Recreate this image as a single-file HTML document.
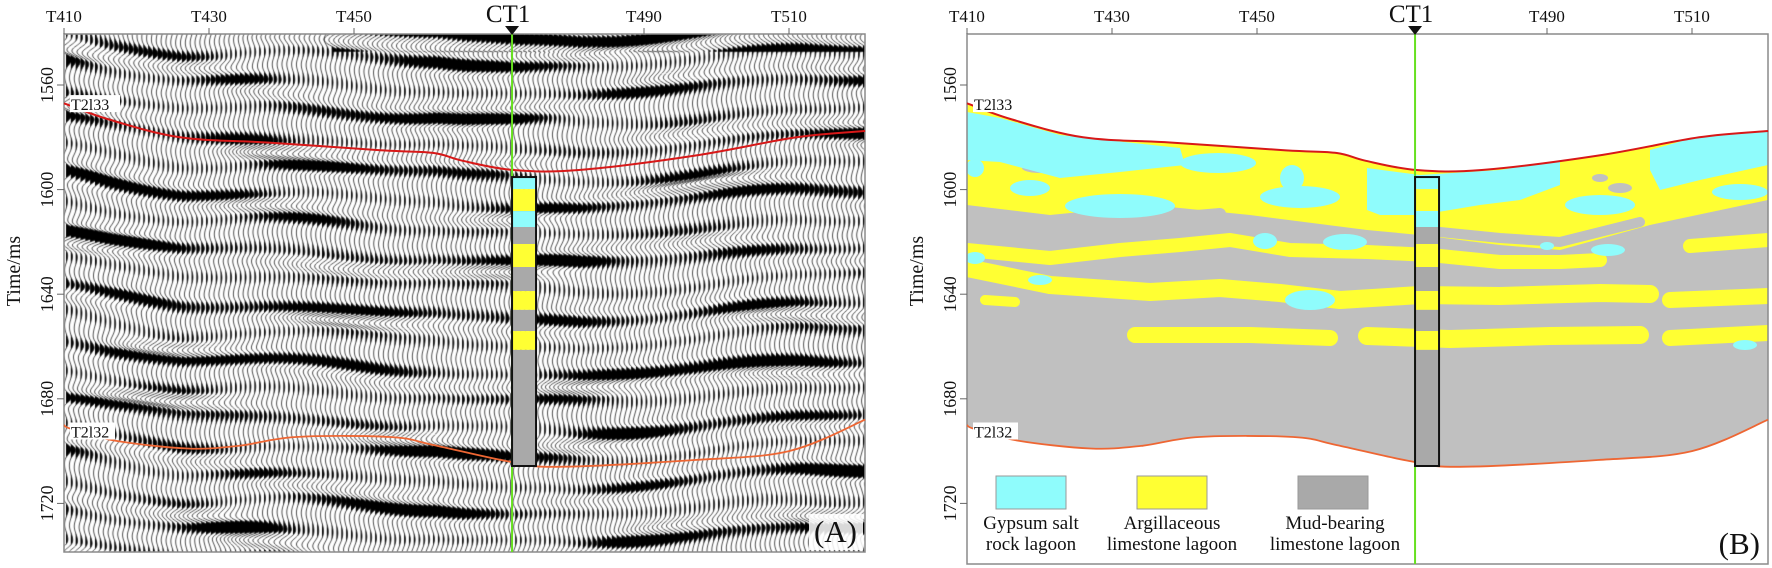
<!DOCTYPE html>
<html><head><meta charset="utf-8">
<style>
html,body{margin:0;padding:0;background:#fff;}
#root{position:relative;width:1772px;height:568px;overflow:hidden;font-family:"Liberation Serif",serif;}
canvas{position:absolute;left:0;top:0;}
svg{position:absolute;left:0;top:0;}
</style></head>
<body>
<div id="root">
<canvas id="seis" width="1772" height="568"></canvas>
<svg id="svg" width="1772" height="568"></svg>
</div>
<script>
// ---- data ----
const traceTicks = [410, 430, 450, 490, 510];
const timeTicks = [1560, 1600, 1640, 1680, 1720];
const wellTrace = 471.8;
const topHorizonTrace = [410, 416, 426, 438, 454, 461, 465, 472, 481, 497, 511, 520.5];
const topHorizonMs = [1567, 1573, 1580, 1582, 1585, 1586, 1589, 1592.5, 1592.5, 1587, 1580, 1577.6];
const botHorizonTrace = [410, 411, 417, 427, 434, 442, 455, 461, 471, 478, 497, 510, 520.5];
const botHorizonMs = [1690, 1691.5, 1696, 1699, 1698, 1694.6, 1694.6, 1697.7, 1703.8, 1706, 1703.4, 1700, 1688];
const wellFacies = ['cyan','yellow','cyan','grey','yellow','grey','yellow','grey','yellow','grey'];
const wellTopMs = [1595.2, 1599.8, 1608.2, 1614.3, 1620.8, 1629.6, 1638.8, 1646.0, 1654.1, 1661.3];
const wellBaseMs = [1599.8, 1608.2, 1614.3, 1620.8, 1629.6, 1638.8, 1646.0, 1654.1, 1661.3, 1705.7];
const legendLabels = [['Gypsum salt','rock lagoon'],['Argillaceous','limestone lagoon'],['Mud-bearing','limestone lagoon']];

const COL = {cyan:'#8ffcfc', yellow:'#ffff33', grey:'#a9a9a9', bg:'#c0c0c0'};
const NS = 'http://www.w3.org/2000/svg';
const svg = document.getElementById('svg');
const PT = 34;
const panels = [{x0:64, x1:865, bottom:552, tag:'a'}, {x0:967, x1:1768, bottom:564, tag:'b'}];
function xs(p, t){ return p.x0 + (t - 410) * 7.25; }
function ys(ms){ return 85 + (ms - 1560) * 2.615; }
function el(tag, attrs, parent){ const e = document.createElementNS(NS, tag); for (const k in attrs) e.setAttribute(k, attrs[k]); (parent||svg).appendChild(e); return e; }
function interp(arrX, arrY, x){
  if (x <= arrX[0]) return arrY[0];
  for (let i=1;i<arrX.length;i++){ if (x <= arrX[i]) { const f=(x-arrX[i-1])/(arrX[i]-arrX[i-1]); return arrY[i-1]+f*(arrY[i]-arrY[i-1]); } }
  return arrY[arrY.length-1];
}
function hPts(p, tr, ms){ return tr.map((t,i)=>[xs(p,t), ys(ms[i])]); }
function smoothPath(pts){
  let d = 'M' + pts[0][0].toFixed(1) + ' ' + pts[0][1].toFixed(1);
  for (let i=0;i<pts.length-1;i++){
    const p0 = pts[Math.max(0,i-1)], p1 = pts[i], p2 = pts[i+1], p3 = pts[Math.min(pts.length-1,i+2)];
    const c1 = [p1[0]+(p2[0]-p0[0])/6, p1[1]+(p2[1]-p0[1])/6];
    const c2 = [p2[0]-(p3[0]-p1[0])/6, p2[1]-(p3[1]-p1[1])/6];
    d += ' C' + c1.map(v=>v.toFixed(1)).join(' ') + ' ' + c2.map(v=>v.toFixed(1)).join(' ') + ' ' + p2.map(v=>v.toFixed(1)).join(' ');
  }
  return d;
}

// ---- seismic wiggles (panel A) ----
const ctx = document.getElementById('seis').getContext('2d');
ctx.save(); ctx.beginPath(); ctx.rect(64, 34, 801, 518); ctx.clip();
ctx.fillStyle = '#000'; ctx.strokeStyle = '#222'; ctx.lineWidth = 0.8;
for (let i = 0; i < 167; i++) {
  const x0 = 66 + i * 4.83;
  const tr = 410 + (x0 - 64) / 7.25;
  const sh = 0.5 * (ys(interp(topHorizonTrace, topHorizonMs, tr)) - 104);
  const d = [];
  for (let y = 34; y <= 552; y++) {
    const ph = (y - sh) / 28 * 2 * Math.PI + 0.6 * Math.sin(x0 / 37) + 0.5 * Math.sin(y / 23 + x0 / 61);
    let env = 0.5 + 0.5 * Math.sin((y - sh) / 56 * 2 * Math.PI + 1.6 * Math.sin(x0 / 90) + 1.1 * Math.sin(y / 70 + x0 / 130));
    env *= 0.55 + 0.45 * Math.sin(x0 / 47 + y / 90) * Math.sin(y / 41 - x0 / 113) + 0.3;
    if (y < 52 && x0 > 330) env = Math.max(env, 0.95);
    const amp = 1.4 + 7 * Math.pow(Math.max(env, 0), 2.2);
    d.push(amp * Math.sin(ph));
  }
  ctx.beginPath(); ctx.moveTo(x0, 34);
  d.forEach((v, k) => ctx.lineTo(x0 + Math.max(v, 0), 34 + k));
  ctx.lineTo(x0, 552); ctx.closePath(); ctx.fill();
  ctx.beginPath();
  d.forEach((v, k) => k ? ctx.lineTo(x0 + v, 34 + k) : ctx.moveTo(x0 + v, 34));
  ctx.stroke();
}
ctx.restore();

// ---- panel B facies fill ----
(function(){
  const p = panels[1];
  const top = hPts(p, topHorizonTrace, topHorizonMs);
  const bot = hPts(p, botHorizonTrace, botHorizonMs);
  const region = smoothPath(top) + ' L' + smoothPath(bot.slice().reverse()).slice(1) + ' Z';
  const defs = el('defs', {});
  const cp = el('clipPath', {id:'faciesClip'}, defs);
  el('path', {d: region}, cp);
  const g = el('g', {'clip-path':'url(#faciesClip)'});
  
  
  el('path', {d: region, fill: COL.bg}, g);
  const yz = el('polygon', {fill: COL.yellow, points: '967,90 1768,90 1768,200 1650,225 1560,250 1500,245 1420,235 1367,230 1250,215 1150,205 1050,215 967,205'}, g);
  
  [[975,150,10,7],[1040,168,18,5],[1085,165,8,5],[1290,182,8,6],[1620,188,12,5],[1600,178,8,4]].forEach(e=>el('ellipse',{cx:e[0],cy:e[1],rx:e[2],ry:e[3],fill:COL.bg},g));
  el('path',{d:'M960 225 L1050 232 L1150 220 L1220 214',stroke:COL.bg,'stroke-width':12,fill:'none','stroke-linecap':'round'},g);
  el('path',{d:'M1440 232 L1500 238 L1560 242 L1640 222',stroke:COL.bg,'stroke-width':10,fill:'none','stroke-linecap':'round'},g);
  el('path',{d:'M1700 220 L1768 212',stroke:COL.bg,'stroke-width':10,fill:'none','stroke-linecap':'round'},g);
  const yb = [
    ['M967 250 L1050 258 L1120 250 L1180 245 L1230 240 L1290 250 L1367 252 L1430 255 L1500 262 L1560 262 L1600 260',14],
    ['M967 268 L1050 285 L1150 292 L1220 288 L1280 293 L1340 300 L1420 295 L1500 296 L1600 293 L1650 294',18],
    ['M1670 300 L1768 296',16],
    ['M1135 335 L1250 335 L1330 338',16],
    ['M1367 336 L1450 339 L1550 336 L1640 335',18],
    ['M1670 338 L1768 333',16],
    ['M1690 246 L1768 240',14],
    ['M985 300 L1015 302',10]
  ];
  yb.forEach(b=>{ const pth = el('path',{d:b[0],stroke:COL.yellow,'stroke-width':b[1],fill:'none','stroke-linecap':'round','stroke-linejoin':'round'},g);  });
  const cyP = [
    '967,112 1000,118 1060,135 1180,148 1185,165 1120,172 1060,178 1000,162 967,160',
    '1367,168 1420,175 1500,170 1560,160 1560,185 1520,200 1480,205 1420,215 1380,215 1367,210',
    '1650,150 1700,136 1768,128 1768,165 1700,180 1660,190 1650,170'
  ];
  cyP.forEach(pts=>{ const q = el('polygon',{points:pts,fill:COL.cyan},g);  });
  [[1218,163,38,10],[1030,188,20,8],[1120,206,55,12],[975,168,9,9],[1300,197,40,11],[1292,178,12,13],[1345,242,22,8],[1265,241,12,8],
   [1600,205,35,10],[1740,192,28,8],[1608,250,17,6],[1547,246,7,4],[1310,300,25,10],[975,258,10,6],[1040,280,12,5],[1745,345,12,5]]
   .forEach(e=>{ const q = el('ellipse',{cx:e[0],cy:e[1],rx:e[2],ry:e[3],fill:COL.cyan},g);  });
})();

// ---- axes, horizons, wells ----
panels.forEach((p, pi) => {
  const fr = el('rect', {x:p.x0, y:PT, width:p.x1-p.x0, height:p.bottom-PT, fill:'none', stroke:'#8a8a8a', 'stroke-width':1.5});
  
  
  traceTicks.forEach(t => {
    const x = xs(p, t);
    el('line', {x1:x, y1:PT-6, x2:x, y2:PT, stroke:'#666', 'stroke-width':1});
    const tx = el('text', {x:x, y:22, 'text-anchor':'middle', 'font-size':17, fill:'#111'});
    tx.textContent = 'T' + t;
    
    
  });
  timeTicks.forEach(ms => {
    const y = ys(ms);
    el('line', {x1:p.x0-7, y1:y, x2:p.x0, y2:y, stroke:'#666', 'stroke-width':1});
    const lx = p.x0 - 17;
    const tx = el('text', {x:lx, y:y, 'text-anchor':'middle', 'dominant-baseline':'central', 'font-size':18, fill:'#111', transform:'rotate(-90 '+lx+' '+y+')'});
    tx.textContent = ms;
    
    
  });
  const ax = p.x0 - 50, ay = 271;
  const at = el('text', {x:ax, y:ay, 'text-anchor':'middle', 'dominant-baseline':'central', 'font-size':20, fill:'#111', transform:'rotate(-90 '+ax+' '+ay+')'});
  at.textContent = 'Time/ms';
  
  
  const th = el('path', {d: smoothPath(hPts(p, topHorizonTrace, topHorizonMs)), fill:'none', stroke:'#d81818', 'stroke-width':2});
  
  
  const bh = el('path', {d: smoothPath(hPts(p, botHorizonTrace, botHorizonMs)), fill:'none', stroke:'#ee6633', 'stroke-width':1.8});
  
  
  [['T2l33', 1567.3, 50],['T2l32', 1692.5, 45]].forEach(hl => {
    const y = ys(hl[1]);
    el('rect', {x:p.x0+6, y:y-9, width:hl[2], height:17, fill:'#fff'});
    const tx = el('text', {x:p.x0+7, y:y+6, 'font-size':16, fill:'#111'});
    tx.textContent = hl[0];
    
    
  });
  const wx = xs(p, wellTrace);
  const wl = el('line', {x1:wx, y1:PT, x2:wx, y2:p.bottom, stroke:'#66e020', 'stroke-width':2});
  
  
  const tri = el('polygon', {points:(wx-7)+','+(PT-8)+' '+(wx+7)+','+(PT-8)+' '+wx+','+(PT+1), fill:'#111'});
  
  
  const wt = el('text', {x:wx-4, y:22, 'text-anchor':'middle', 'font-size':25, fill:'#111'});
  wt.textContent = 'CT1';
  
  
  wellFacies.forEach((f, i) => {
    const r = el('rect', {x:wx, y:ys(wellTopMs[i]), width:24, height:ys(wellBaseMs[i])-ys(wellTopMs[i]), fill:COL[f]});
    
    
  });
  const wc = el('rect', {x:wx, y:ys(wellTopMs[0]), width:24, height:ys(wellBaseMs[wellBaseMs.length-1])-ys(wellTopMs[0]), fill:'none', stroke:'#111', 'stroke-width':2});
  
  
  if (!pi) el('rect', {x:p.x1-56, y:p.bottom-38, width:54, height:36, fill:'#fff', opacity:0.85});
  const pt = el('text', {x:p.x1-8, y:p.bottom-10, 'text-anchor':'end', 'font-size':31, fill:'#111'});
  pt.textContent = pi ? '(B)' : '(A)';
  
  
});

// ---- legend ----
const legCols = [COL.cyan, COL.yellow, COL.grey];
const legX = [996, 1137, 1298];
legendLabels.forEach((lab, i) => {
  const g = el('g', {});
  
  
  el('rect', {x:legX[i], y:476, width:70, height:33, fill:legCols[i], stroke:'#999', 'stroke-width':1}, g);
  const cx = legX[i] + 35 + (i === 2 ? 2 : 0);
  lab.forEach((s, k) => {
    const t = el('text', {x:cx, y:529 + k*21, 'text-anchor':'middle', 'font-size':19, fill:'#111'}, g);
    t.textContent = s;
  });
});
</script>
</body></html>
